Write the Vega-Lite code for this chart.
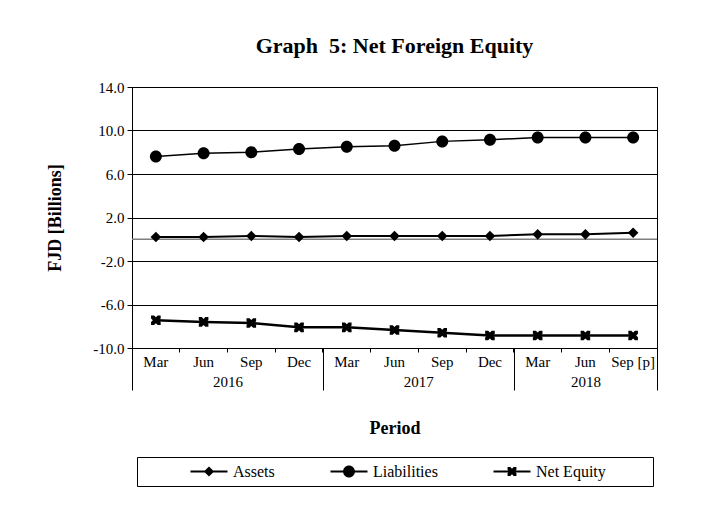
{
  "$schema": "https://vega.github.io/schema/vega-lite/v6.json",
  "width": 525,
  "height": 261,
  "autosize": {"type": "none"},
  "padding": {"left": 132, "top": 87, "right": 47, "bottom": 172},
  "background": "white",
  "title": {"text": "Graph \u00a05: Net Foreign Equity", "font": "Liberation Serif", "fontSize": 22, "fontWeight": "bold", "color": "black", "offset": 22},
  "config": {
    "font": "Liberation Serif",
    "view": {"stroke": "black", "strokeWidth": 1},
    "axis": {"labelFont": "Liberation Serif", "titleFont": "Liberation Serif", "labelColor": "black", "titleColor": "black", "domainColor": "black", "tickColor": "black", "gridColor": "black"},
    "legend": {"labelFont": "Liberation Serif", "titleFont": "Liberation Serif"}
  },
  "data": {"values": [
    {"period": "2016 Mar", "series": "Assets", "value": 0.2},
    {"period": "2016 Jun", "series": "Assets", "value": 0.2},
    {"period": "2016 Sep", "series": "Assets", "value": 0.3},
    {"period": "2016 Dec", "series": "Assets", "value": 0.2},
    {"period": "2017 Mar", "series": "Assets", "value": 0.3},
    {"period": "2017 Jun", "series": "Assets", "value": 0.3},
    {"period": "2017 Sep", "series": "Assets", "value": 0.3},
    {"period": "2017 Dec", "series": "Assets", "value": 0.3},
    {"period": "2018 Mar", "series": "Assets", "value": 0.45},
    {"period": "2018 Jun", "series": "Assets", "value": 0.45},
    {"period": "2018 Sep [p]", "series": "Assets", "value": 0.6},
    {"period": "2016 Mar", "series": "Liabilities", "value": 7.6},
    {"period": "2016 Jun", "series": "Liabilities", "value": 7.9},
    {"period": "2016 Sep", "series": "Liabilities", "value": 8.0},
    {"period": "2016 Dec", "series": "Liabilities", "value": 8.3},
    {"period": "2017 Mar", "series": "Liabilities", "value": 8.5},
    {"period": "2017 Jun", "series": "Liabilities", "value": 8.6},
    {"period": "2017 Sep", "series": "Liabilities", "value": 9.0},
    {"period": "2017 Dec", "series": "Liabilities", "value": 9.15},
    {"period": "2018 Mar", "series": "Liabilities", "value": 9.35},
    {"period": "2018 Jun", "series": "Liabilities", "value": 9.35},
    {"period": "2018 Sep [p]", "series": "Liabilities", "value": 9.35},
    {"period": "2016 Mar", "series": "Net Equity", "value": -7.45},
    {"period": "2016 Jun", "series": "Net Equity", "value": -7.6},
    {"period": "2016 Sep", "series": "Net Equity", "value": -7.7},
    {"period": "2016 Dec", "series": "Net Equity", "value": -8.1},
    {"period": "2017 Mar", "series": "Net Equity", "value": -8.1},
    {"period": "2017 Jun", "series": "Net Equity", "value": -8.35},
    {"period": "2017 Sep", "series": "Net Equity", "value": -8.6},
    {"period": "2017 Dec", "series": "Net Equity", "value": -8.85},
    {"period": "2018 Mar", "series": "Net Equity", "value": -8.85},
    {"period": "2018 Jun", "series": "Net Equity", "value": -8.85},
    {"period": "2018 Sep [p]", "series": "Net Equity", "value": -8.85}
  ]},
  "layer": [
    {
      "data": {"values": [{"line": "zero"}]},
      "mark": {"type": "rule", "color": "#7f7f7f", "strokeWidth": 1.5},
      "encoding": {
        "x": {"datum": 0, "type": "quantitative", "scale": {"domain": [0, 11], "nice": false, "zero": false},
          "axis": {"orient": "bottom", "values": [0, 2, 4, 6, 8, 9.5, 11], "tickSize": 42, "tickColor": "black", "tickWidth": 1,
            "tickOpacity": {"condition": {"test": "datum.value==2||datum.value==6||datum.value==9.5", "value": 0}, "value": 1},
            "labelExpr": "datum.value==2?'2016':datum.value==6?'2017':datum.value==9.5?'2018':''",
            "labelPadding": -16, "labelFontSize": 15, "labelFlush": false, "labelOverlap": false, "labelBound": false,
            "domain": false, "grid": false,
            "title": "Period", "titleFontSize": 18, "titleFontWeight": "bold", "titlePadding": 29}},
        "x2": {"datum": 11},
        "y": {"datum": 0, "type": "quantitative"}
      }
    },
    {
      "encoding": {
        "x": {"field": "period", "type": "ordinal", "sort": null, "scale": {"type": "band", "paddingInner": 0, "paddingOuter": 0},
          "axis": {"orient": "bottom", "bandPosition": 0, "tickSize": 4, "labelExpr": "slice(datum.value, 5)", "labelFontSize": 15, "labelPadding": 2, "labelAngle": 0, "title": null, "grid": false}},
        "y": {"field": "value", "type": "quantitative", "scale": {"domain": [-10, 14], "nice": false, "zero": false},
          "axis": {"values": [-10, -6, -2, 2, 6, 10, 14], "grid": true, "gridColor": "black", "tickSize": 5,
            "labelExpr": "(datum.value<0?'-':'') + format(abs(datum.value), '.1f')", "labelFontSize": 15, "labelPadding": 3,
            "title": "FJD [Billions]", "titleFontSize": 18, "titleFontWeight": "bold", "titlePadding": 28}}
      },
      "layer": [
        {
          "transform": [{"filter": "datum.series == 'Assets'"}],
          "mark": {"type": "line", "color": "black", "strokeWidth": 2},
          "encoding": {}
        },
        {
          "transform": [{"filter": "datum.series == 'Liabilities'"}],
          "mark": {"type": "line", "color": "black", "strokeWidth": 1.5},
          "encoding": {}
        },
        {
          "transform": [{"filter": "datum.series == 'Net Equity'"}],
          "mark": {"type": "line", "color": "black", "strokeWidth": 2.5},
          "encoding": {}
        },
        {
          "mark": {"type": "point", "filled": true, "color": "black", "opacity": 1, "size": 144},
          "encoding": {
            "shape": {"field": "series", "type": "nominal",
              "scale": {"domain": ["Assets", "Liabilities", "Net Equity"], "range": ["M0,-0.88L0.88,0L0,0.88L-0.88,0Z", "M-1,0A1,1 0 1,0 1,0A1,1 0 1,0 -1,0Z", "M-0.8,-0.8L-0.3,-0.8L0,-0.5L0.3,-0.8L0.8,-0.8L0.8,-0.3L0.5,0L0.8,0.3L0.8,0.8L0.3,0.8L0,0.5L-0.3,0.8L-0.8,0.8L-0.8,0.3L-0.5,0L-0.8,-0.3Z"]},
              "legend": null
            }
          }
        },
        {
          "mark": {"type": "point", "filled": true, "color": "black", "opacity": 0, "size": 144},
          "encoding": {
            "shape": {"field": "series", "type": "nominal",
              "scale": {"domain": ["Assets", "Liabilities", "Net Equity"], "range": [
                "M-1,-0.05L-0.22,-0.05L0,-0.27L0.22,-0.05L1,-0.05L1,0.05L0.22,0.05L0,0.27L-0.22,0.05L-1,0.05Z",
                "M-1,-0.05L-0.316,-0.05A0.32,0.32 0 0,1 0.316,-0.05L1,-0.05L1,0.05L0.316,0.05A0.32,0.32 0 0,1 -0.316,0.05L-1,0.05Z",
                "M-1,-0.05L-0.2,-0.05L-0.24,-0.09L-0.24,-0.24L-0.09,-0.24L0,-0.15L0.09,-0.24L0.24,-0.24L0.24,-0.09L0.2,-0.05L1,-0.05L1,0.05L0.2,0.05L0.24,0.09L0.24,0.24L0.09,0.24L0,0.15L-0.09,0.24L-0.24,0.24L-0.24,0.09L-0.2,0.05L-1,0.05Z"]},
              "legend": {"orient": "none", "legendX": 5, "legendY": 370, "direction": "horizontal",
                "title": "\u00a0", "titleOrient": "right", "titlePadding": 41, "titleFontSize": 16,
                "padding": 6, "strokeColor": "black", "symbolSize": 1369, "clipHeight": 17,
                "symbolOffset": 47, "labelOffset": 5, "columnPadding": 8,
                "symbolOpacity": 1, "symbolFillColor": "black", "symbolStrokeColor": "black", "symbolStrokeWidth": 1,
                "labelFontSize": 16, "labelFont": "Liberation Serif", "labelColor": "black"}
            }
          }
        }
      ],
      "resolve": {"scale": {"shape": "independent"}, "legend": {"shape": "independent"}}
    }
  ],
  "resolve": {"scale": {"x": "independent", "shape": "independent"}, "axis": {"x": "independent"}, "legend": {"shape": "independent"}}
}
